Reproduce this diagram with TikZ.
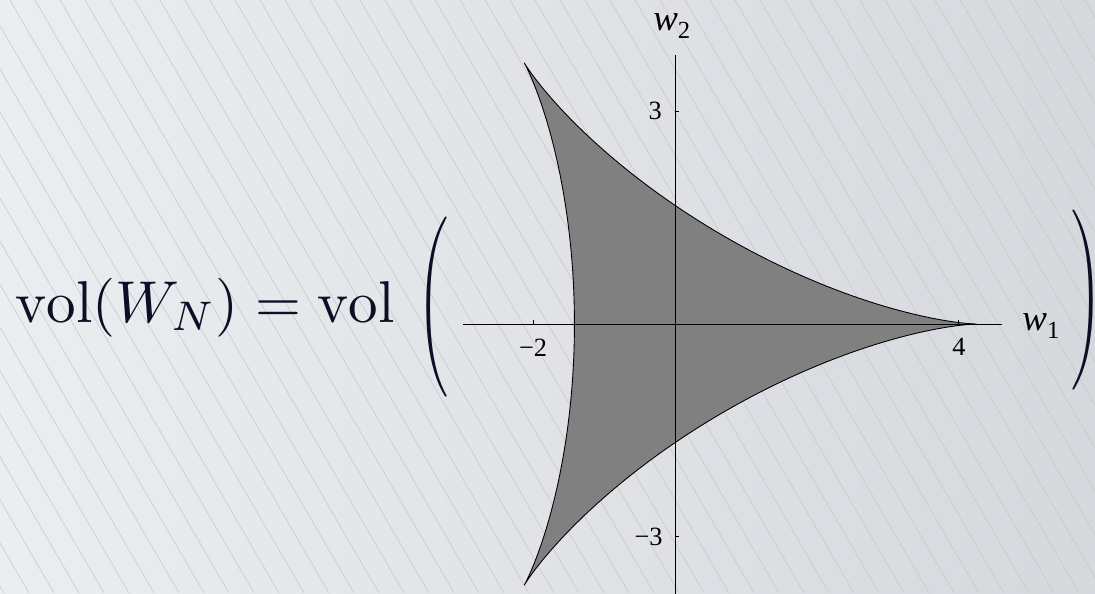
\documentclass[tikz,border=0pt]{standalone}
\usepackage{amsmath}
\usepackage{graphicx}
\usepackage{fontspec}
\usetikzlibrary{positioning}
\newfontfamily\plotfont{Liberation Serif}
\definecolor{bgleft}{HTML}{ECEDF0}
\definecolor{bgright}{HTML}{D5D8DD}
\definecolor{hatchgray}{HTML}{C8C9CD}
\definecolor{regiongray}{HTML}{808080}
\definecolor{formulaink}{HTML}{0E0E26}
\tikzset{
  hatch/.style={draw=hatchgray, line width=0.35pt},
  axisline/.style={draw=black, line width=0.55pt},
  region/.style={fill=regiongray, draw=black, line width=0.5pt},
  ticklabel/.style={font=\plotfont\fontsize{15}{17}\selectfont, inner sep=0pt},
  axislabel/.style={font=\plotfont\fontsize{21}{24}\selectfont, inner sep=0pt, anchor=base west},
  formula/.style={text=formulaink, inner sep=0pt},
  bigparen/.style={text=formulaink, inner sep=0pt}
}

\begin{document}
\begin{tikzpicture}[x=0.02cm, y=-0.02cm]
  \useasboundingbox (0,0) rectangle (1095,593);
  \shade[left color=bgleft, right color=bgright] (0,0) rectangle (1095,593);

  % diagonal hatching of the backdrop
  \begin{scope}
    \clip (0,0) rectangle (1095,593);
    \foreach \k in {-15,...,44}
      \draw[hatch] ({10+25*\k},0) -- ++(344,593);
  \end{scope}

  % the deltoid in the (w1,w2) plane
  \begin{scope}[shift={(675,324)}, x=1.42cm, y=1.42cm]
    \def\rr{1.4167}
    \filldraw[region] plot[domain=0:360, samples=241, variable=\t]
      ({2*\rr*cos(\t)+\rr*cos(2*\t)}, {2*\rr*sin(\t)-\rr*sin(2*\t)}) -- cycle;

    \draw[axisline] (-2.99,0) -- (4.6,0);
    \draw[axisline] (0,-3.8) -- (0,3.79);
    \draw[axisline] (0,3) -- ++(0.06,0);
    \draw[axisline] (0,-3) -- ++(0.06,0);
    \draw[axisline] (-2,0) -- ++(0,0.06);
    \draw[axisline] (4,0) -- ++(0,0.06);

    \node[ticklabel, anchor=east] (tick3) at (-0.18,3) {3};
    \node[ticklabel, anchor=east] (tickm3) at (-0.17,-3) {−3};
    \node[ticklabel, anchor=north] (tickm2) at (-2,-0.2) {−2};
    \node[ticklabel, anchor=north] (tick4) at (4,-0.2) {4};

    \node[axislabel] (wone) at (4.89,-0.085)
      {\textit{w}\raisebox{-5pt}{\fontsize{14}{16}\selectfont 1}};
    \node[axislabel] (wtwo) at (-0.31,4.14)
      {\textit{w}\raisebox{-5pt}{\fontsize{14}{16}\selectfont 2}};
  \end{scope}

  \node[formula, anchor=base west] (lhs) at (15,322)
    {\scalebox{3.36}{$\mathrm{vol}(W_N) = \mathrm{vol}$}};
  \node[bigparen] (lparen) at (433,307)
    {\resizebox*{0.62cm}{3.6cm}{$\Biggl($}};
  \node[bigparen] (rparen) at (1087,300)
    {\resizebox*{0.62cm}{3.6cm}{$\Biggr)$}};
\end{tikzpicture}
\end{document}
